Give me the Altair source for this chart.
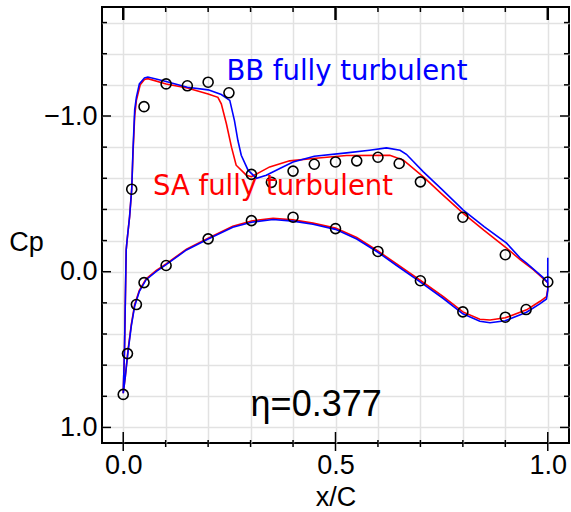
import altair as alt
import pandas as pd

# ---------------- data ----------------
# Experiment, upper and lower surface
exp_upper_x = [0.02, 0.049, 0.101, 0.151, 0.2, 0.249, 0.302, 0.349, 0.4, 0.45, 0.5, 0.55, 0.6, 0.65, 0.7, 0.8, 0.9, 1.0]
exp_upper_cp = [-0.53, -1.06, -1.206, -1.194, -1.217, -1.149, -0.625, -0.574, -0.646, -0.69, -0.705, -0.712, -0.735, -0.695, -0.577, -0.35, -0.109, 0.066]
exp_lower_x = [0.0, 0.01, 0.031, 0.049, 0.101, 0.2, 0.302, 0.4, 0.5, 0.6, 0.7, 0.8, 0.9, 0.949]
exp_lower_cp = [0.788, 0.526, 0.211, 0.07, -0.04, -0.211, -0.328, -0.35, -0.277, -0.13, 0.058, 0.258, 0.292, 0.243]

# BB fully turbulent (blue)
bb_upper_x = [0.0, 0.003, 0.007, 0.009, 0.015, 0.02, 0.023, 0.027, 0.031, 0.038, 0.05, 0.058, 0.101, 0.151, 0.2, 0.231, 0.251,
              0.262, 0.27, 0.278, 0.294, 0.314, 0.337, 0.37, 0.40, 0.45, 0.526, 0.58, 0.62, 0.652, 0.667, 0.707, 0.75,
              0.801, 0.85, 0.903, 0.935, 0.95, 0.99, 1.0, 1.0]
bb_upper_cp = [0.78, 0.5, -0.14, -0.2, -0.354, -0.53, -0.78, -1.04, -1.12, -1.206, -1.245, -1.25, -1.221, -1.185, -1.168, -1.138, -1.10,
               -0.97, -0.844, -0.748, -0.652, -0.6, -0.62, -0.665, -0.705, -0.742, -0.763, -0.78, -0.795, -0.78, -0.754, -0.641, -0.53,
               -0.396, -0.29, -0.183, -0.088, -0.055, 0.04, 0.07, -0.09]
bb_lower_x = [0.0, 0.005, 0.011, 0.019, 0.027, 0.038, 0.054, 0.078, 0.101, 0.149, 0.2, 0.258, 0.302, 0.353, 0.4, 0.447, 0.5,
              0.55, 0.6, 0.644, 0.701, 0.754, 0.8, 0.84, 0.864, 0.9, 0.95, 0.982, 0.997, 1.0, 1.0]
bb_lower_cp = [0.78, 0.67, 0.52, 0.35, 0.22, 0.126, 0.051, -0.002, -0.045, -0.14, -0.21, -0.285, -0.318, -0.335, -0.325, -0.305, -0.272,
               -0.21, -0.125, -0.04, 0.068, 0.172, 0.27, 0.318, 0.328, 0.315, 0.26, 0.205, 0.175, 0.12, 0.07]

# SA fully turbulent (red)
sa_upper_x = [0.0, 0.003, 0.007, 0.009, 0.015, 0.02, 0.023, 0.027, 0.031, 0.04, 0.05, 0.058, 0.101, 0.151, 0.2, 0.223, 0.231,
              0.243, 0.255, 0.266, 0.29, 0.302, 0.345, 0.392, 0.447, 0.526, 0.628, 0.66, 0.707, 0.75, 0.801, 0.85, 0.903,
              0.935, 0.966, 1.0]
sa_upper_cp = [0.78, 0.5, -0.14, -0.2, -0.354, -0.53, -0.76, -1.0, -1.1, -1.2, -1.235, -1.24, -1.206, -1.18, -1.142, -1.12, -1.078,
               -0.95, -0.80, -0.684, -0.62, -0.61, -0.673, -0.712, -0.727, -0.746, -0.748, -0.716, -0.609, -0.50, -0.375, -0.265, -0.152,
               -0.077, -0.013, 0.07]
sa_lower_x = [0.0, 0.005, 0.011, 0.019, 0.027, 0.038, 0.054, 0.078, 0.101, 0.149, 0.2, 0.258, 0.302, 0.353, 0.4, 0.447, 0.5,
              0.55, 0.6, 0.644, 0.701, 0.754, 0.8, 0.84, 0.864, 0.9, 0.95, 0.982, 0.997, 1.0, 1.0]
sa_lower_cp = [0.78, 0.67, 0.51, 0.34, 0.21, 0.12, 0.045, -0.008, -0.05, -0.145, -0.215, -0.292, -0.326, -0.343, -0.333, -0.312, -0.28,
               -0.22, -0.133, -0.05, 0.058, 0.16, 0.258, 0.305, 0.31, 0.296, 0.245, 0.19, 0.16, 0.11, 0.07]

# annotations
ann_text = ["BB fully turbulent", "SA fully turbulent", "η=0.377"]
ann_x = [0.243, 0.07, 0.300]
ann_cp = [-1.232, -0.492, 0.925]

# axis grid / tick values
grid_x = [0.0, 0.1, 0.2, 0.3, 0.4, 0.5, 0.6, 0.7, 0.8, 0.9, 1.0]
grid_y = [-1.6, -1.4, -1.2, -1.0, -0.8, -0.6, -0.4, -0.2, 0.0, 0.2, 0.4, 0.6, 0.8, 1.0]
xtick_major = [0.0, 0.5, 1.0]
xtick_minor = [0.1, 0.2, 0.3, 0.4, 0.6, 0.7, 0.8, 0.9]
ytick_major = [-1.0, 0.0, 1.0]
ytick_minor = [-1.6, -1.4, -1.2, -0.8, -0.6, -0.4, -0.2, 0.2, 0.4, 0.6, 0.8]

# ---------------- build tables ----------------
def closed_path(ux, ucp, lx, lcp):
    pts = list(zip(ux, ucp))[::-1] + list(zip(lx, lcp))[1:]
    return pd.DataFrame({"x": [p[0] for p in pts], "cp": [p[1] for p in pts], "i": list(range(len(pts)))})

bb_df = closed_path(bb_upper_x, bb_upper_cp, bb_lower_x, bb_lower_cp)
sa_df = closed_path(sa_upper_x, sa_upper_cp, sa_lower_x, sa_lower_cp)
exp_df = pd.DataFrame({"x": exp_upper_x + exp_lower_x, "cp": exp_upper_cp + exp_lower_cp})

W, H = 467, 436
FONT = "Liberation Sans"

xs = alt.Scale(domain=[-0.05, 1.05], nice=False, zero=False)
ys = alt.Scale(domain=[-1.7, 1.1], reverse=True, nice=False, zero=False)

x_axis = alt.Axis(
    values=grid_x,
    labelExpr="(abs(datum.value) < 1e-6 || abs(datum.value - 0.5) < 1e-6 || abs(datum.value - 1) < 1e-6) ? format(datum.value, '.1f') : ''",
    grid=True, gridColor="#e2e2e2", gridWidth=1.5, ticks=False, domain=False,
    labelFont=FONT, labelFontSize=27, labelColor="black", labelPadding=9,
    labelOverlap=False, labelFlush=False,
    title="x/C", titleFont=FONT, titleFontSize=27, titleFontWeight="normal", titleColor="black",
    titleY=62, titleBaseline="alphabetic",
)
y_axis = alt.Axis(
    values=grid_y,
    labelExpr="(abs(datum.value) < 1e-6 || abs(datum.value + 1) < 1e-6 || abs(datum.value - 1) < 1e-6) ? format(datum.value, '.1f') : ''",
    grid=True, gridColor="#e2e2e2", gridWidth=1.5, ticks=False, domain=False,
    labelFont=FONT, labelFontSize=27, labelColor="black", labelPadding=5,
    labelOverlap=False, labelFlush=False, labelBaseline="middle",
    title="Cp", titleFont=FONT, titleFontSize=27, titleFontWeight="normal", titleColor="black",
    titleAngle=0, titleX=-76, titleY=243, titleAlign="center", titleBaseline="alphabetic",
)

X = alt.X("x:Q", scale=xs, axis=x_axis)
Y = alt.Y("cp:Q", scale=ys, axis=y_axis)

sa_line = alt.Chart(sa_df).mark_line(color="#ff0000", strokeWidth=1.6, clip=True).encode(x=X, y=Y, order="i:Q")
bb_line = alt.Chart(bb_df).mark_line(color="#0000ff", strokeWidth=1.6, clip=True).encode(x=X, y=Y, order="i:Q")

exp_pts = alt.Chart(exp_df).mark_point(shape="circle", filled=False, color="black", size=100, strokeWidth=1.6, opacity=1).encode(x=X, y=Y)

ann_df = pd.DataFrame({"text": ann_text, "x": ann_x, "cp": ann_cp})
txt_bb = alt.Chart(ann_df.iloc[[0]]).mark_text(align="left", baseline="alphabetic", font="DejaVu Sans", fontSize=27.5, color="#0000ff").encode(x=X, y=Y, text="text:N")
txt_sa = alt.Chart(ann_df.iloc[[1]]).mark_text(align="left", baseline="alphabetic", font="DejaVu Sans", fontSize=27.5, color="#ff0000").encode(x=X, y=Y, text="text:N")
txt_eta = alt.Chart(ann_df.iloc[[2]]).mark_text(align="left", baseline="alphabetic", font=FONT, fontSize=36, color="black").encode(x=X, y=Y, text="text:N")

# inward ticks on all four sides
xmaj = pd.DataFrame({"x": xtick_major})
xmin = pd.DataFrame({"x": xtick_minor})
ymaj = pd.DataFrame({"cp": ytick_major})
ymin = pd.DataFrame({"cp": ytick_minor})

ticks = [
    alt.Chart(ymaj).mark_rule(color="black", strokeWidth=1.5).encode(y=Y, x=alt.value(0), x2=alt.value(9)),
    alt.Chart(ymin).mark_rule(color="black", strokeWidth=1.5).encode(y=Y, x=alt.value(0), x2=alt.value(5)),
    alt.Chart(ymaj).mark_rule(color="black", strokeWidth=1.5).encode(y=Y, x=alt.value(W - 9), x2=alt.value(W)),
    alt.Chart(ymin).mark_rule(color="black", strokeWidth=1.5).encode(y=Y, x=alt.value(W - 5), x2=alt.value(W)),
    alt.Chart(xmaj).mark_rule(color="black", strokeWidth=2.5).encode(x=X, y=alt.value(0), y2=alt.value(13)),
    alt.Chart(xmin).mark_rule(color="black", strokeWidth=1.5).encode(x=X, y=alt.value(0), y2=alt.value(5)),
    alt.Chart(xmaj).mark_rule(color="black", strokeWidth=1.5).encode(x=X, y=alt.value(H - 11), y2=alt.value(H + 8)),
    alt.Chart(xmin).mark_rule(color="black", strokeWidth=1.5).encode(x=X, y=alt.value(H - 3), y2=alt.value(H + 4)),
]

chart = alt.layer(
    sa_line, bb_line, exp_pts, txt_bb, txt_sa, txt_eta, *ticks
).properties(
    width=W, height=H,
    autosize=alt.AutoSizeParams(type="none"),
    padding={"left": 102, "top": 7, "right": 2, "bottom": 69},
    background="white",
).configure_view(stroke="black", strokeWidth=2)

chart.save("out.html", embed_options={"renderer": "svg", "actions": False})
